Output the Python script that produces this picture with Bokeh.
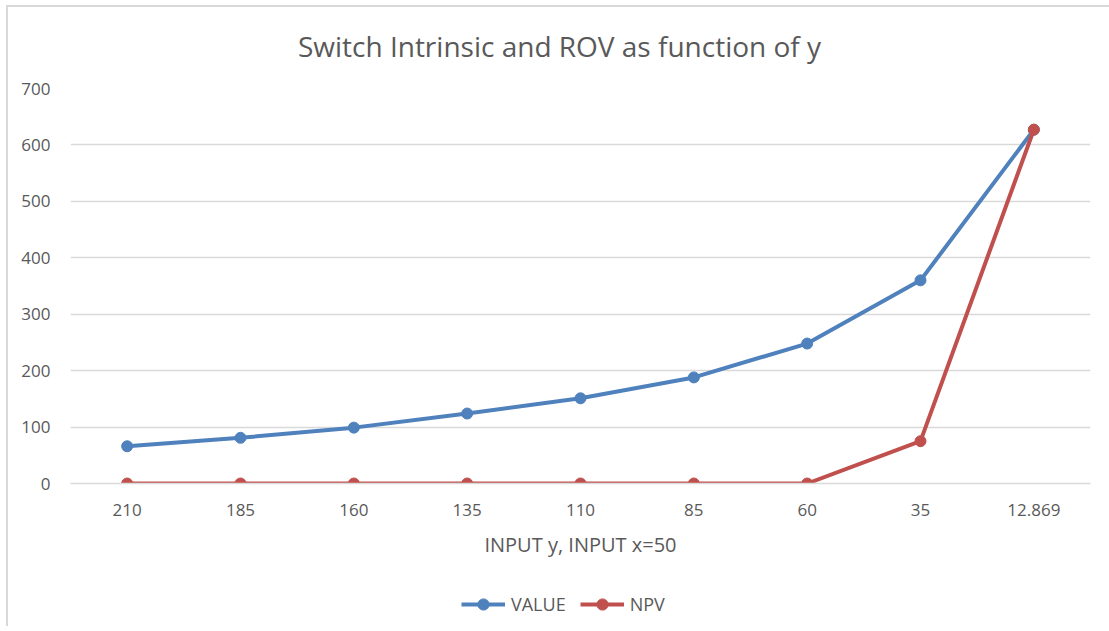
from bokeh.plotting import figure
from bokeh.layouts import column
from bokeh.models import Legend, LegendItem, Range1d, FixedTicker, Label
from bokeh.embed import file_html
from bokeh.resources import INLINE

title_text = "Switch Intrinsic and ROV as function of y"
categories = ["210", "185", "160", "135", "110", "85", "60", "35", "12.869"]
value_series = [66, 81, 99, 124, 151, 188, 248, 360, 627]
npv_series = [0, 0, 0, 0, 0, 0, 0, 75, 627]
y_ticks = [0, 100, 200, 300, 400, 500, 600, 700]
series_names = ["VALUE", "NPV"]

BLUE = "#4F81BD"
RED = "#C0504D"
GRID = "#D9D9D9"
TEXT = "#595959"
FONT = "Open Sans"

# title strip
t = figure(
    width=1101, height=61,
    x_range=Range1d(0, 1), y_range=Range1d(0, 1),
    output_backend="svg", toolbar_location=None,
    min_border=0,
)
t.axis.visible = False
t.grid.visible = False
t.outline_line_color = None
t.add_layout(Label(
    x=489, y=23, x_units="screen", y_units="screen",
    text=title_text, text_align="center", text_baseline="middle",
    text_font=FONT, text_font_size="28px", text_color=TEXT,
))

# main chart
p = figure(
    x_range=categories,
    y_range=Range1d(0, 700),
    width=1101, height=514,
    output_backend="svg", toolbar_location=None,
    min_border_left=62, min_border_right=19,
    min_border_top=20, min_border_bottom=99,
)
p.outline_line_color = None

p.xgrid.grid_line_color = None
p.ygrid.grid_line_color = GRID
p.ygrid.grid_line_width = 1.5

p.yaxis.ticker = FixedTicker(ticks=y_ticks)
p.yaxis.axis_line_color = None
p.yaxis.major_tick_line_color = None
p.yaxis.minor_tick_line_color = None
p.yaxis.major_label_standoff = 14
p.yaxis.major_label_text_font = FONT
p.yaxis.major_label_text_font_size = "17px"
p.yaxis.major_label_text_color = TEXT

p.xaxis.axis_line_color = GRID
p.xaxis.axis_line_width = 1.5
p.xaxis.major_tick_line_color = None
p.xaxis.minor_tick_line_color = None
p.xaxis.major_label_standoff = 14
p.xaxis.major_label_text_font = FONT
p.xaxis.major_label_text_font_size = "17px"
p.xaxis.major_label_text_color = TEXT
p.xaxis.axis_label = "INPUT y, INPUT x=50"
p.xaxis.axis_label_text_font = FONT
p.xaxis.axis_label_text_font_size = "20px"
p.xaxis.axis_label_text_font_style = "normal"
p.xaxis.axis_label_text_color = TEXT
p.xaxis.axis_label_standoff = 12

p.line(categories, value_series, line_color=BLUE, line_width=4)
p.scatter(categories, value_series, size=11, fill_color=BLUE, line_color=BLUE)
p.line(categories, npv_series, line_color=RED, line_width=4)
p.scatter(categories, npv_series, size=11, fill_color=RED, line_color=RED)

# legend strip: same series, plotted outside this strip's visible range,
# so that only the legend's key glyphs show
q = figure(
    width=1101, height=44,
    x_range=categories, y_range=Range1d(5000, 5001),
    output_backend="svg", toolbar_location=None,
    min_border=0,
)
q.axis.visible = False
q.grid.visible = False
q.outline_line_color = None
items = []
for name, vals, col in zip(series_names, [value_series, npv_series], [BLUE, RED]):
    r1 = q.line(categories, vals, line_color=col, line_width=4)
    r2 = q.scatter(categories, vals, size=11, fill_color=col, line_color=col)
    items.append(LegendItem(label=name, renderers=[r1, r2]))

legend = Legend(
    items=items,
    orientation="horizontal",
    location=(391, 8),
    background_fill_alpha=0,
    border_line_color=None,
    glyph_width=44,
    glyph_height=28,
    label_standoff=6,
    spacing=14,
    padding=0,
    margin=0,
    label_text_font=FONT,
    label_text_font_size="18px",
    label_text_color=TEXT,
)
q.add_layout(legend, "center")

layout = column(t, p, q, spacing=0)
layout.styles = {"border-left": "2px solid #D9D9D9", "border-top": "2px solid #D9D9D9",
                 "margin-left": "6px", "margin-top": "5px"}

open("out.html", "w").write(file_html(layout, INLINE))
